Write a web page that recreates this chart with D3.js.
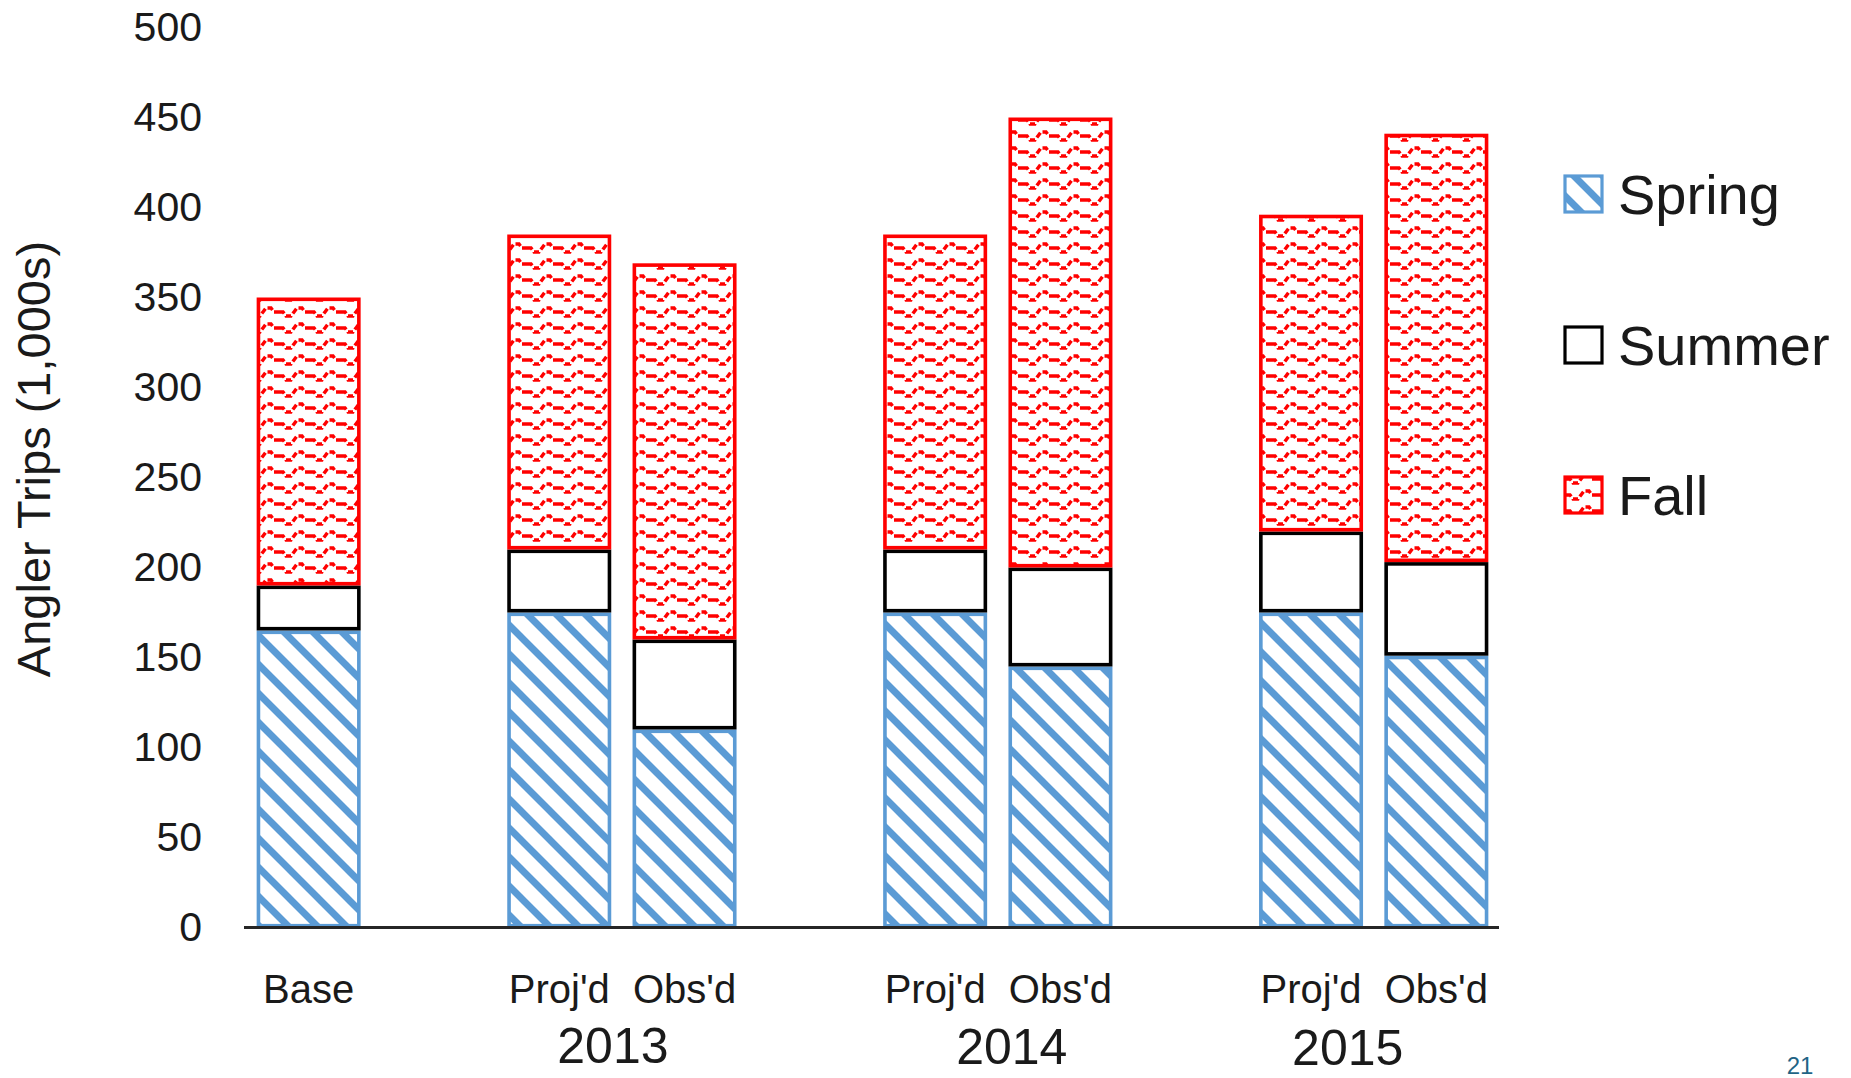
<!DOCTYPE html>
<html>
<head>
<meta charset="utf-8">
<script src="https://cdn.jsdelivr.net/npm/d3@7"></script>
<style>
  html, body { margin: 0; padding: 0; background: #ffffff; }
  svg { display: block; }
  text { font-family: "Liberation Sans", Arial, sans-serif; fill: #1a1a1a; }
</style>
</head>
<body>
<svg id="chart" width="1851" height="1078"></svg>
<script>
// Angler trips (thousands) by season: base year, then projected vs observed per year
const slots = ["base", "gap1", "p13", "o13", "gap2", "p14", "o14", "gap3", "p15", "o15"];
const barKeys = ["base", "p13", "o13", "p14", "o14", "p15", "o15"];
const barLabels = ["Base", "Proj'd", "Obs'd", "Proj'd", "Obs'd", "Proj'd", "Obs'd"];
const seasons = ["Spring", "Summer", "Fall"];
const spring = [165, 175, 110, 175, 145, 175, 151];
const summer = [25, 35, 50, 35, 55, 45, 52];
const fall = [160, 175, 209, 175, 250, 176, 238];
const years = ["2013", "2014", "2015"];
const yearGroups = [["p13", "o13"], ["p14", "o14"], ["p15", "o15"]];
const yTicks = [0, 50, 100, 150, 200, 250, 300, 350, 400, 450, 500];

const svg = d3.select("#chart");

const x = d3.scaleBand().domain(slots).range([246, 1499])
  .paddingInner(0.17).paddingOuter(0.085);
const y = d3.scaleLinear().domain([0, 500]).range([927.5, 27.5]);

const colors = { Spring: "#5B9BD5", Summer: "#000000", Fall: "#FF0000" };
const strokeW = 3.6;

// ---- fill patterns ----
const defs = svg.append("defs");

function stripePattern(id, ox, oy) {
  const p = 29;
  const pat = defs.append("pattern").attr("id", id)
    .attr("patternUnits", "userSpaceOnUse")
    .attr("x", ox).attr("y", oy).attr("width", p).attr("height", p);
  pat.append("rect").attr("width", p).attr("height", p).attr("fill", "#fff");
  pat.append("path")
    .attr("d", `M-6,-6 L${p + 6},${p + 6} M${p - 6},-6 L${p + 6},6 M-6,${p - 6} L6,${p + 6}`)
    .attr("stroke", colors.Spring).attr("stroke-width", 7).attr("fill", "none");
}
stripePattern("springFill", 0, 0);
stripePattern("springKey", 1564, 175);

function wavePattern(id, ox, oy) {
  const pw = 31, ph = 16;
  const pat = defs.append("pattern").attr("id", id)
    .attr("patternUnits", "userSpaceOnUse")
    .attr("x", ox).attr("y", oy).attr("width", pw).attr("height", ph);
  pat.append("rect").attr("width", pw).attr("height", ph).attr("fill", "#fff");
  pat.append("path")
    .attr("d", "M0,8 L4,8 L7,12 L12,12 L15,8 L18,4 L23,4 L26,8 L31,8")
    .attr("stroke", colors.Fall).attr("stroke-width", 3.4)
    .attr("stroke-dasharray", "6 2.5").attr("fill", "none");
}
wavePattern("fallFill", 0, 0);
wavePattern("fallKey", 1566, 488);

const fills = { Spring: "url(#springFill)", Summer: "#ffffff", Fall: "url(#fallFill)" };
const keyFills = { Spring: "url(#springKey)", Summer: "#ffffff", Fall: "url(#fallKey)" };

// ---- stacked bars ----
const rows = barKeys.map((k, i) => ({ key: k, Spring: spring[i], Summer: summer[i], Fall: fall[i] }));
const stacked = d3.stack().keys(seasons)(rows);

const bw = x.bandwidth();
const inset = strokeW / 2;
svg.append("g").selectAll("g").data(stacked).join("g")
  .each(function (layer) {
    const season = layer.key;
    d3.select(this).selectAll("rect").data(layer).join("rect")
      .attr("x", d => x(d.data.key) + inset)
      .attr("y", d => y(d[1]) + inset)
      .attr("width", bw - strokeW)
      .attr("height", d => Math.max(0, y(d[0]) - y(d[1]) - strokeW))
      .attr("fill", fills[season])
      .attr("stroke", colors[season])
      .attr("stroke-width", strokeW);
  });

// ---- axes ----
const yAxis = d3.axisLeft(y).tickValues(yTicks).tickSize(0).tickPadding(3);
const gy = svg.append("g").attr("transform", "translate(205,0)").call(yAxis);
gy.select(".domain").remove();
gy.selectAll("text").attr("font-size", 41).attr("font-family", "Liberation Sans, Arial, sans-serif").attr("fill", "#1a1a1a");

const labelOf = new Map(barKeys.map((k, i) => [k, barLabels[i]]));
const xAxis = d3.axisBottom(x).tickValues(barKeys).tickSize(0).tickSizeOuter(0)
  .tickPadding(47).tickFormat(k => labelOf.get(k));
const gx = svg.append("g").attr("transform", "translate(0,927.5)").call(xAxis);
gx.select(".domain").attr("stroke", "#262626").attr("stroke-width", 3)
  .attr("d", "M244,0H1499");
gx.selectAll("text").attr("font-size", 40).attr("font-family", "Liberation Sans, Arial, sans-serif").attr("fill", "#1a1a1a");

// year captions under each projected/observed pair
const yearNudge = [-9, 14, -26];
const yearBase = [1063, 1064, 1065];
svg.append("g").selectAll("text").data(years).join("text")
  .attr("x", (d, i) => (x(yearGroups[i][0]) + x(yearGroups[i][1]) + bw) / 2 + yearNudge[i])
  .attr("y", (d, i) => yearBase[i])
  .attr("text-anchor", "middle")
  .attr("font-size", 50)
  .text(d => d);

// y-axis title
svg.append("text")
  .attr("transform", "translate(50,459) rotate(-90)")
  .attr("text-anchor", "middle")
  .attr("font-size", 47)
  .text("Angler Trips (1,000s)");

// ---- legend ----
const legendRows = [194, 345, 495];
const lg = svg.append("g").selectAll("g").data(seasons).join("g")
  .attr("transform", (d, i) => `translate(0,${legendRows[i]})`);
lg.append("rect")
  .attr("x", 1565).attr("y", -18).attr("width", 37).attr("height", 36)
  .attr("fill", d => keyFills[d])
  .attr("stroke", d => colors[d])
  .attr("stroke-width", 3.2);
lg.append("text")
  .attr("x", 1618).attr("y", 20)
  .attr("font-size", 56)
  .text(d => d);

// slide number
svg.append("text")
  .attr("x", 1800).attr("y", 1074)
  .attr("text-anchor", "middle")
  .attr("font-size", 24)
  .style("fill", "#1f6485")
  .text("21");
</script>
</body>
</html>
